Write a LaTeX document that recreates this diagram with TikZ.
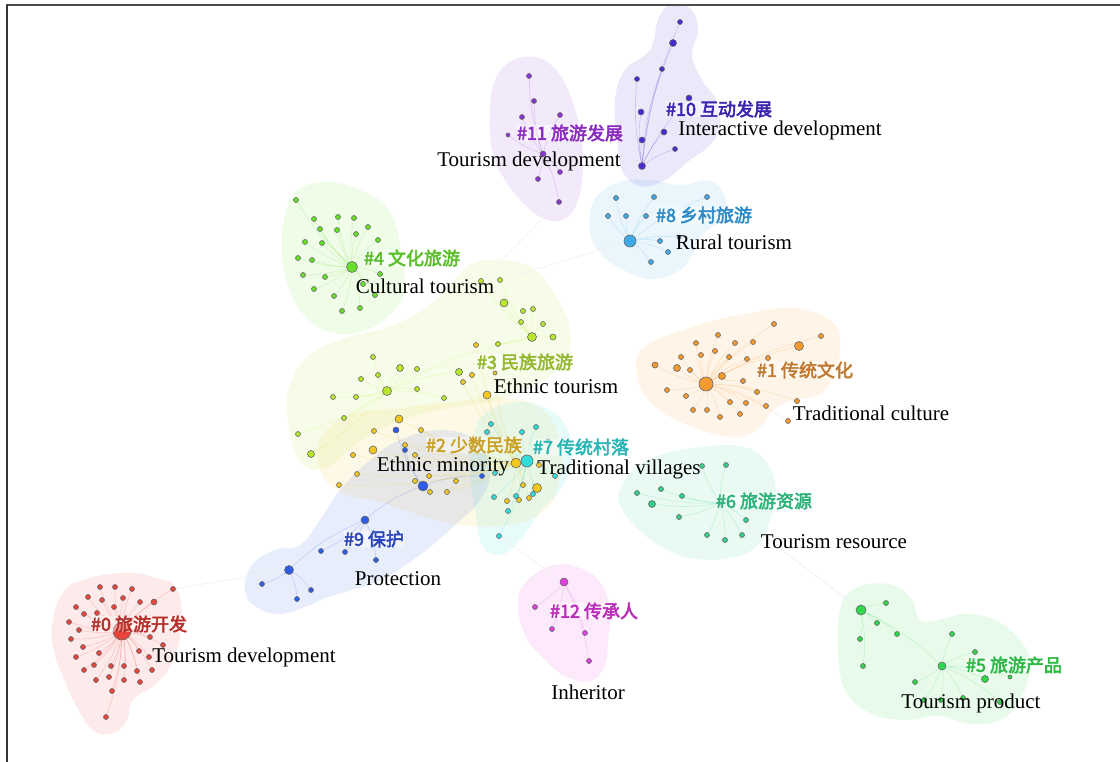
\documentclass[tikz,border=0pt]{standalone}
\usepackage{fontspec}
\setmainfont{Liberation Serif}
\newfontfamily\cjk{Noto Sans CJK SC}[FakeBold=3]
\usetikzlibrary{backgrounds}
\definecolor{c0}{HTML}{E8453C}
\definecolor{c1}{HTML}{F59A2F}
\definecolor{c2}{HTML}{F2C81E}
\definecolor{c3}{HTML}{B8E62E}
\definecolor{c4}{HTML}{66E02A}
\definecolor{c5}{HTML}{2ED84A}
\definecolor{c6}{HTML}{30D08A}
\definecolor{c7}{HTML}{30DDDD}
\definecolor{c8}{HTML}{3FA9E8}
\definecolor{c9}{HTML}{2F5BE8}
\definecolor{c10}{HTML}{4A2AD0}
\definecolor{c11}{HTML}{8A35D0}
\definecolor{c12}{HTML}{E040E0}
\definecolor{t0}{HTML}{B5302A}
\definecolor{t1}{HTML}{C07A32}
\definecolor{t2}{HTML}{C9A227}
\definecolor{t3}{HTML}{96B832}
\definecolor{t4}{HTML}{5CBF2A}
\definecolor{t5}{HTML}{2EB844}
\definecolor{t6}{HTML}{2EB27A}
\definecolor{t7}{HTML}{2BB5B5}
\definecolor{t8}{HTML}{2E8BC8}
\definecolor{t9}{HTML}{2A46B8}
\definecolor{t10}{HTML}{3A24B0}
\definecolor{t11}{HTML}{8A2CC0}
\definecolor{t12}{HTML}{B82CB8}
\pgfdeclarelayer{blobs}
\pgfdeclarelayer{links}
\pgfsetlayers{blobs,links,main}

\begin{document}
\begin{tikzpicture}[x=1pt, y=-1pt,
  dot/.style={circle, draw=black!60, line width=0.6pt, inner sep=0pt, minimum size=5pt},
  blob/.style={fill opacity=0.11},
  edge/.style={line width=0.6pt, opacity=0.22},
  faint/.style={line width=0.8pt, black!5},
  zh/.style={font=\cjk\fontsize{18}{18}\selectfont, inner sep=0pt, fill=white, fill opacity=0.45, text opacity=1},
  en/.style={font=\fontsize{21}{21}\selectfont, inner sep=0pt}
]
\useasboundingbox (0,0) rectangle (1120,762);
\draw[line width=2pt, black!70] (6,5) -- (1120,5);
\draw[line width=1.2pt, black!80] (7,5) -- (7,762);

% cluster hulls
\begin{pgfonlayer}{blobs}
  \fill[blob, c0] plot[smooth cycle, tension=0.8] coordinates {(53,620) (63,593) (83,580) (123,573) (157,578) (177,590) (181,627) (173,660) (157,683) (133,700) (127,720) (113,733) (93,730) (77,707) (63,677) (53,647)};
  \fill[blob, c1] plot[smooth cycle, tension=0.8] coordinates {(637,357) (650,343) (683,330) (717,320) (750,313) (780,308) (807,310) (833,323) (840,340) (837,367) (827,387) (813,397) (793,400) (773,410) (760,427) (740,437) (710,433) (683,423) (660,410) (643,393) (637,373)};
  \fill[blob, c3] plot[smooth cycle, tension=0.7] coordinates {(288,420) (290,385) (310,355) (345,338) (385,328) (420,312) (448,288) (470,265) (500,260) (532,268) (555,295) (570,330) (565,360) (540,382) (505,398) (470,405) (430,412) (390,425) (355,445) (325,468) (300,462)};
  \fill[blob, c2] plot[smooth cycle, tension=0.7] coordinates {(320,440) (350,415) (400,408) (450,402) (500,398) (540,408) (560,440) (560,480) (545,510) (510,525) (460,525) (420,515) (380,502) (340,492) (320,470)};
  \fill[blob, c9] plot[smooth cycle, tension=0.7] coordinates {(245,590) (252,565) (275,550) (300,545) (320,520) (340,490) (370,460) (400,440) (440,430) (475,440) (490,470) (480,500) (455,525) (420,555) (380,580) (345,592) (325,598) (305,607) (278,614) (255,606)};
  \fill[blob, c7] plot[smooth cycle, tension=0.7] coordinates {(475,430) (490,410) (520,402) (550,410) (568,430) (572,460) (560,490) (540,512) (520,540) (500,555) (482,545) (475,510) (470,470)};
  \fill[blob, c4] plot[smooth cycle, tension=0.7] coordinates {(285,215) (298,190) (328,182) (360,190) (385,205) (397,230) (402,260) (405,290) (390,315) (360,332) (330,332) (305,316) (290,290) (282,255)};
  \fill[blob, c5] plot[smooth cycle, tension=0.7] coordinates {(840,610) (850,592) (870,584) (895,586) (912,600) (920,620) (938,620) (965,614) (995,620) (1020,640) (1030,665) (1020,700) (1000,720) (970,724) (940,716) (905,720) (870,713) (845,690) (838,650)};
  \fill[blob, c6] plot[smooth cycle, tension=0.7] coordinates {(620,490) (635,468) (660,455) (700,447) (740,446) (765,460) (776,490) (770,520) (758,545) (730,558) (690,558) (660,546) (635,526) (620,505)};
  \fill[blob, c8] plot[smooth cycle, tension=0.7] coordinates {(590,215) (598,195) (620,182) (650,180) (680,185) (710,181) (726,200) (720,220) (702,235) (692,255) (680,270) (655,279) (630,273) (605,258) (592,240)};
  \fill[blob, c10] plot[smooth cycle, tension=0.7] coordinates {(617,140) (615,100) (625,70) (650,50) (658,20) (670,5) (690,8) (698,30) (692,55) (702,80) (716,100) (720,125) (710,145) (690,160) (665,180) (640,186) (622,170)};
  \fill[blob, c11] plot[smooth cycle, tension=0.7] coordinates {(490,110) (495,80) (510,62) (535,57) (556,70) (570,95) (580,130) (583,165) (578,200) (565,219) (545,219) (525,205) (505,180) (492,150)};
  \fill[blob, c12] plot[smooth cycle, tension=0.7] coordinates {(518,600) (530,578) (555,565) (580,568) (600,582) (610,610) (608,640) (605,665) (590,681) (565,676) (545,660) (525,635)};
\end{pgfonlayer}

% cluster 0
\node[dot, fill=c0, minimum size=18pt] (a0) at (122,631) {};
\foreach \x/\y/\s [count=\i] in {100/587/5, 115/587/5, 132/589/5, 173/589/5, 88/597/5, 102/600/5, 123/598/5, 140/602/5, 154/602/6, 76/607/5, 84/614/5, 97/613/5, 114/607/5, 69/622/5, 79/630/5, 71/639/5, 150/637/5, 163/645/5, 83/647/5, 99/653/5, 139/651/5, 149/657/5, 76/657/5, 94/665/5, 111/666/5, 124/666/5, 84/670/5, 137/671/5, 152/670/5, 96/680/5, 109/677/5, 124/680/5, 140/682/5, 112/691/5, 106/717/5}
  \node[dot, fill=c0, minimum size=\s pt] (a\i) at (\x,\y) {};

% cluster 1
\node[dot, fill=c1, minimum size=14pt] (b0) at (706,384) {};
\foreach \x/\y/\s [count=\i] in {774/324/5, 821/336/5, 799/346/9, 718/335/5, 696/343/5, 735/343/5, 753/342/5, 681/357/5, 701/355/5, 715/351/5, 729/357/5, 747/359/5, 768/358/5, 655/365/6, 677/368/7, 690/370/5, 722/376/7, 743/381/5, 667/390/5, 686/396/5, 757/392/5, 730/402/5, 746/403/5, 766/406/5, 797/401/5, 693/410/5, 707/410/5, 720/417/5, 740/414/5, 788/421/5}
  \node[dot, fill=c1, minimum size=\s pt] (b\i) at (\x,\y) {};

% cluster 2
\node[dot, fill=c2, minimum size=10pt] (d0) at (516,463) {};
\foreach \x/\y/\s [count=\i] in {476/345/5, 487/395/8, 463/382/5, 472/375/5, 495/373/4, 399/419/8, 374/431/5, 421/430/5, 405/445/5, 373/450/8, 353/455/5, 415/455/5, 357/474/5, 339/485/5, 429/476/5, 415/481/5, 430/492/5, 447/492/5, 456/481/5, 539/465/5, 523/485/5, 537/488/9, 507/501/5, 519/500/5, 529/498/5}
  \node[dot, fill=c2, minimum size=\s pt] (d\i) at (\x,\y) {};

% cluster 3
\node[dot, fill=c3, minimum size=9pt] (e0) at (387,391) {};
\node[dot, fill=c3, minimum size=9pt] (f0) at (532,337) {};
\foreach \x/\y/\s [count=\i] in {373/357/5, 400/368/7, 417/369/5, 459/372/7, 378/375/5, 361/379/5, 417/389/5, 333/397/5, 356/397/5, 444/398/5, 344/418/5, 298/434/5, 311/454/7}
  \node[dot, fill=c3, minimum size=\s pt] (e\i) at (\x,\y) {};
\foreach \x/\y/\s [count=\i] in {481/281/5, 500/280/5, 504/303/8, 523/311/5, 533/309/5, 521/322/5, 543/324/5, 553/337/6, 498/344/5}
  \node[dot, fill=c3, minimum size=\s pt] (f\i) at (\x,\y) {};

% cluster 4
\node[dot, fill=c4, minimum size=11pt] (g0) at (352,267) {};
\foreach \x/\y/\s [count=\i] in {296/200/5, 314/219/5, 338/217/5, 354/218/5, 320/229/5, 337/230/5, 356/234/5, 368/227/5, 378/240/5, 305/242/5, 322/243/5, 298/258/5, 312/260/5, 303/275/5, 325/277/5, 380/274/5, 314/289/5, 363/284/5, 334/296/5, 375/295/5, 342/311/5, 360/308/5}
  \node[dot, fill=c4, minimum size=\s pt] (g\i) at (\x,\y) {};

% cluster 5
\node[dot, fill=c5, minimum size=8pt] (h0) at (942,666) {};
\node[dot, fill=c5, minimum size=10pt] (k0) at (861,610) {};
\foreach \x/\y/\s [count=\i] in {952/634/5, 975/652/5, 915/682/5, 985/679/7, 1010/677/4, 924/700/5, 941/700/5, 963/698/5, 1000/702/5}
  \node[dot, fill=c5, minimum size=\s pt] (h\i) at (\x,\y) {};
\foreach \x/\y/\s [count=\i] in {886/603/5, 877/623/5, 860/639/5, 863/666/5, 897/634/5}
  \node[dot, fill=c5, minimum size=\s pt] (k\i) at (\x,\y) {};

% cluster 6
\node[dot, fill=c6, minimum size=5pt] (m0) at (720,503) {};
\foreach \x/\y/\s [count=\i] in {702/466/5, 726/465/5, 637/493/5, 661/489/5, 682/496/5, 652/504/7, 679/517/5, 746/520/5, 707/535/5, 725/540/5, 742/535/5}
  \node[dot, fill=c6, minimum size=\s pt] (m\i) at (\x,\y) {};

% cluster 7
\node[dot, fill=c7, minimum size=12pt] (p0) at (527,461) {};
\foreach \x/\y/\s [count=\i] in {491/424/5, 522/432/5, 536/427/5, 548/441/4, 495/473/5, 555/476/5, 494/497/5, 516/496/5, 533/494/5, 508/511/5, 499/536/5, 487/432/5}
  \node[dot, fill=c7, minimum size=\s pt] (p\i) at (\x,\y) {};

% cluster 8
\node[dot, fill=c8, minimum size=12pt] (q0) at (630,241) {};
\foreach \x/\y/\s [count=\i] in {616/198/5, 654/197/5, 707/197/5, 608/216/5, 626/216/5, 646/216/5, 660/241/5, 668/252/5, 651/262/5, 679/237/4}
  \node[dot, fill=c8, minimum size=\s pt] (q\i) at (\x,\y) {};

% cluster 9
\node[dot, fill=c9, minimum size=8pt] (s0) at (365,520) {};
\node[dot, fill=c9, minimum size=9pt] (u0) at (289,570) {};
\node[dot, fill=c9, minimum size=10pt] (v0) at (423,486) {};
\foreach \x/\y/\s [count=\i] in {321/551/5, 345/552/5, 376/560/5}
  \node[dot, fill=c9, minimum size=\s pt] (s\i) at (\x,\y) {};
\foreach \x/\y/\s [count=\i] in {262/584/5, 311/590/5, 297/599/5}
  \node[dot, fill=c9, minimum size=\s pt] (u\i) at (\x,\y) {};
\foreach \x/\y/\s [count=\i] in {396/430/6, 405/450/5, 482/476/5}
  \node[dot, fill=c9, minimum size=\s pt] (v\i) at (\x,\y) {};

% cluster 10
\node[dot, fill=c10, minimum size=7pt] (w0) at (642,166) {};
\foreach \x/\y/\s [count=\i] in {680/22/5, 673/43/7, 662/69/5, 637/79/5, 689/98/6, 641/112/6, 664/132/6, 642/140/6, 675/149/5}
  \node[dot, fill=c10, minimum size=\s pt] (w\i) at (\x,\y) {};

% cluster 11
\node[dot, fill=c11, minimum size=6pt] (y0) at (543,154) {};
\foreach \x/\y/\s [count=\i] in {529/76/5, 534/101/5, 522/117/5, 560/115/5, 508/135/4, 560/172/5, 538/179/5, 559/202/5}
  \node[dot, fill=c11, minimum size=\s pt] (y\i) at (\x,\y) {};

% cluster 12
\node[dot, fill=c12, minimum size=8pt] (z0) at (564,582) {};
\foreach \x/\y/\s [count=\i] in {535/607/5, 552/629/5, 585/633/5, 589/661/5}
  \node[dot, fill=c12, minimum size=\s pt] (z\i) at (\x,\y) {};

% links
\begin{pgfonlayer}{links}
  \draw[faint] (a4) -- (u0);
  \draw[faint] (m0) -- (k0);
  \draw[faint] (f2) -- (q0);
  \draw[faint] (y8) -- (f1);
  \draw[faint] (p11) -- (z0);
  \foreach \i in {1,...,35} \draw[edge, c0] (a0) to[bend left=8] (a\i);
  \foreach \i in {1,...,30} \draw[edge, c1] (b0) to[bend left=8] (b\i);
  \foreach \i in {1,...,25} \draw[edge, c2] (d0) to[bend left=8] (d\i);
  \foreach \i in {1,...,13} \draw[edge, c3] (e0) to[bend left=8] (e\i);
  \foreach \i in {1,...,9} \draw[edge, c3] (f0) to[bend left=8] (f\i);
  \draw[edge, c3] (e0) to[bend left=8] (f0);
  \foreach \i in {1,...,22} \draw[edge, c4] (g0) to[bend left=8] (g\i);
  \foreach \i in {1,...,9} \draw[edge, c5] (h0) to[bend left=8] (h\i);
  \foreach \i in {1,...,5} \draw[edge, c5] (k0) to[bend left=8] (k\i);
  \draw[edge, c5] (k0) to[bend left=8] (h0);
  \foreach \i in {1,...,11} \draw[edge, c6] (m0) to[bend left=8] (m\i);
  \foreach \i in {1,...,12} \draw[edge, c7] (p0) to[bend left=8] (p\i);
  \foreach \i in {1,...,10} \draw[edge, c8] (q0) to[bend left=8] (q\i);
  \foreach \i in {1,...,3} \draw[edge, c9] (s0) to[bend left=10] (s\i);
  \foreach \i in {1,...,3} \draw[edge, c9] (u0) to[bend left=10] (u\i);
  \foreach \i in {1,...,3} \draw[edge, c9] (v0) to[bend left=10] (v\i);
  \draw[edge, c9] (u0) to[bend left=10] (s0);
  \draw[edge, c9] (s0) to[bend left=10] (v0);
  \foreach \i in {1,...,9} \draw[edge, c10] (w0) to[bend left=8] (w\i);
  \foreach \i in {1,...,8} \draw[edge, c11] (y0) to[bend left=8] (y\i);
  \foreach \i in {1,...,4} \draw[edge, c12] (z0) to[bend left=8] (z\i);
\end{pgfonlayer}

% labels
\node[zh, text=t0] (l0) at (139,624) {\#0 旅游开发};
\node[zh, text=t1] (l1) at (805,370) {\#1 传统文化};
\node[zh, text=t2] (l2) at (474,445) {\#2 少数民族};
\node[zh, text=t3] (l3) at (525,362) {\#3 民族旅游};
\node[zh, text=t4] (l4) at (412,258) {\#4 文化旅游};
\node[zh, text=t5] (l5) at (1014,665) {\#5 旅游产品};
\node[zh, text=t6] (l6) at (764,501) {\#6 旅游资源};
\node[zh, text=t7] (l7) at (581,447) {\#7 传统村落};
\node[zh, text=t8] (l8) at (704,215) {\#8 乡村旅游};
\node[zh, text=t9] (l9) at (374,539) {\#9 保护};
\node[zh, text=t10] (l10) at (719,109) {\#10 互动发展};
\node[zh, text=t11] (l11) at (570,133) {\#11 旅游发展};
\node[zh, text=t12] (l12) at (594,611) {\#12 传承人};

\node[en] (n0) at (244,657) {Tourism development};
\node[en] (n1) at (871,413) {Traditional culture};
\node[en] (n2) at (443,466) {Ethnic minority};
\node[en] (n3) at (556,386) {Ethnic tourism};
\node[en] (n4) at (425,286) {Cultural tourism};
\node[en] (n5) at (971,703) {Tourism product};
\node[en] (n6) at (834,542) {Tourism resource};
\node[en] (n7) at (619,469) {Traditional villages};
\node[en] (n8) at (734,242) {Rural tourism};
\node[en] (n9) at (398,579) {Protection};
\node[en] (n10) at (780,130) {Interactive development};
\node[en] (n11) at (529,161) {Tourism development};
\node[en] (n12) at (588,692) {Inheritor};
\end{tikzpicture}
\end{document}
